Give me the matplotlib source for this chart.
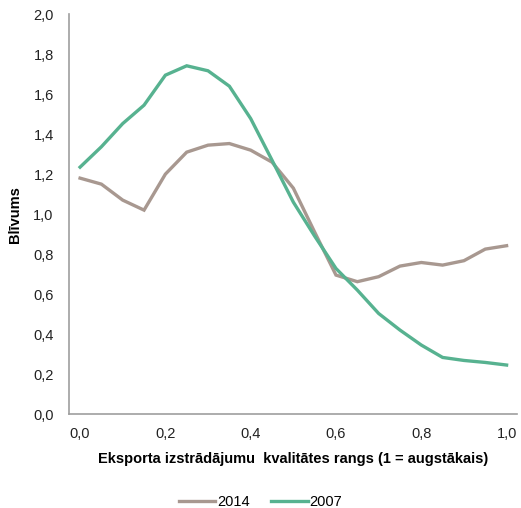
import matplotlib.pyplot as plt
from matplotlib.ticker import FuncFormatter, MultipleLocator

plt.rcParams["font.family"] = ["Liberation Sans", "DejaVu Sans"]

# Dati
rangs = [0.0, 0.05, 0.1, 0.15, 0.2, 0.25, 0.3, 0.35, 0.4, 0.45, 0.5,
         0.55, 0.6, 0.65, 0.7, 0.75, 0.8, 0.85, 0.9, 0.95, 1.0]
blivums_2014 = [1.18, 1.15, 1.07, 1.02, 1.20, 1.31, 1.345, 1.353, 1.32, 1.26, 1.13,
                0.91, 0.695, 0.662, 0.687, 0.74, 0.758, 0.745, 0.767, 0.825, 0.842]
blivums_2007 = [1.235, 1.337, 1.453, 1.545, 1.695, 1.742, 1.717, 1.64, 1.478, 1.27, 1.06,
                0.89, 0.728, 0.62, 0.503, 0.42, 0.345, 0.283, 0.268, 0.258, 0.245]

c_2014 = "#A89890"
c_2007 = "#57B290"

fig = plt.figure(figsize=(5.21, 5.08), dpi=100)
fig.patch.set_facecolor("white")
ax = fig.add_axes([0.1324, 0.185, 0.8596, 0.787])

ax.plot(rangs, blivums_2014, color=c_2014, lw=2.4, label="2014", solid_joinstyle="miter")
ax.plot(rangs, blivums_2007, color=c_2007, lw=2.4, label="2007", solid_joinstyle="miter")

ax.set_xlim(-0.026, 1.024)
ax.set_ylim(0, 2.0)
ax.xaxis.set_major_locator(MultipleLocator(0.2))
ax.yaxis.set_major_locator(MultipleLocator(0.2))
comma = FuncFormatter(lambda v, p: f"{v:.1f}".replace(".", ","))
ax.xaxis.set_major_formatter(comma)
ax.yaxis.set_major_formatter(comma)
ax.tick_params(axis="both", length=0, labelsize=10.5, colors="#222222")
ax.tick_params(axis="x", pad=9)
ax.tick_params(axis="y", pad=11)

for s in ["top", "right"]:
    ax.spines[s].set_visible(False)
for s in ["left", "bottom"]:
    ax.spines[s].set_color("#9E9E9E")
    ax.spines[s].set_linewidth(1.2)

ax.set_xlabel("Eksporta izstrādājumu  kvalitātes rangs (1 = augstākais)",
              fontsize=10.5, fontweight="bold", labelpad=8)
ax.set_ylabel("Blīvums", fontsize=10.5, fontweight="bold", labelpad=8)

fig.legend(loc="lower center", bbox_to_anchor=(0.5, -0.028), ncol=2, frameon=False,
           fontsize=10.5, handlelength=2.5, columnspacing=1.5, handletextpad=0.1)

plt.savefig("out.png", dpi=100, facecolor="white")
